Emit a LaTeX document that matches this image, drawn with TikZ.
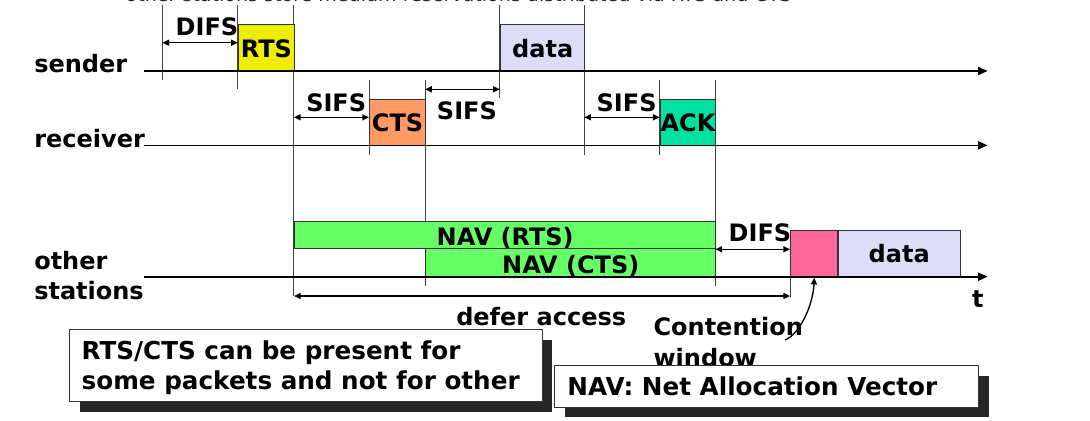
\documentclass[tikz,border=0pt]{standalone}
\usepackage{fontspec}
\setmainfont{DejaVu Sans}
\usetikzlibrary{arrows.meta,shadows}
\definecolor{rtsy}{RGB}{238,238,0}
\definecolor{ctsc}{RGB}{255,153,102}
\definecolor{ackc}{RGB}{0,224,160}
\definecolor{datac}{RGB}{221,221,247}
\definecolor{navc}{RGB}{102,255,102}
\definecolor{pinkc}{RGB}{255,102,153}
\begin{document}
\begin{tikzpicture}[x=0.75pt,y=-0.75pt,
  lbl/.style={font=\fontsize{18}{21.6}\selectfont\bfseries, inner sep=0pt, anchor=base west},
  pkt/.style={draw=black!80, line width=0.8pt, inner sep=0pt, anchor=north west,
    font=\fontsize{18}{21.6}\selectfont\bfseries, text height=13.5pt, text depth=0pt},
  navbar/.style={pkt, fill=navc, text height=16pt},
  tl/.style={line width=1.2pt, -{Triangle[length=7pt,width=6pt]}},
  vl/.style={black!75, line width=0.75pt},
  dim/.style={line width=1pt, {Triangle[length=5pt,width=4.5pt]}-{Triangle[length=5pt,width=4.5pt]}},
  note/.style={draw=black!80, line width=0.8pt, fill=white, inner sep=0pt, anchor=north west,
    drop shadow={shadow xshift=7.5pt, shadow yshift=-7.5pt, opacity=1, fill=black!85}},
  notetxt/.style={font=\fontsize{18.5}{22}\selectfont\bfseries, inner sep=0pt, anchor=base west}
]
\useasboundingbox (0,0) rectangle (1090,421);

% clipped heading line (cut off at the top edge, as in the reference)
\node[anchor=base west, inner sep=0pt, font=\fontsize{14.3}{17}\selectfont, text=black!85] (topline) at (125.4,2) {other stations store medium reservations distributed via RTS and CTS};

% station labels
\node[lbl] (lsender) at (34,72.7) {sender};
\node[lbl] (lreceiver) at (34,147.7) {receiver};
\node[lbl] (lother) at (34,269.3) {other};
\node[lbl] (lstations) at (34,299.3) {stations};

% vertical markers
\draw[vl] (162.4,5) -- (162.4,80);
\draw[vl] (237.8,5) -- (237.8,89);
\draw[vl] (293.9,5) -- (293.9,296);
\draw[vl] (369,80) -- (369,155);
\draw[vl] (425.1,80) -- (425.1,286);
\draw[vl] (499.8,5) -- (499.8,98);
\draw[vl] (584.3,5) -- (584.3,155);
\draw[vl] (659.6,80) -- (659.6,155);
\draw[vl] (715.4,80) -- (715.4,286);
\draw[vl] (790,230) -- (790,297);

% packets
\node[pkt, fill=rtsy, minimum width=42.1pt, minimum height=35.25pt] (rts) at (237.8,24) {RTS};
\node[pkt, fill=datac, minimum width=63.2pt, minimum height=35.25pt] (data1) at (500,24) {data};
\node[pkt, fill=ctsc, minimum width=42.1pt, minimum height=35pt] (cts) at (369,98.7) {CTS};
\node[pkt, fill=ackc, minimum width=41.85pt, minimum height=35pt] (ack) at (659.6,98.7) {ACK};
\node[navbar, minimum width=316pt, minimum height=20.7pt] (navr) at (294,220.7) {NAV (RTS)};
\node[navbar, minimum width=217.7pt, minimum height=21.3pt] (navcts) at (425.1,248.3) {NAV (CTS)};
\node[pkt, fill=pinkc, minimum width=35.6pt, minimum height=35pt] (cwin) at (790,230) {};
\node[pkt, fill=datac, minimum width=91.7pt, minimum height=35pt] (data2) at (837.5,230) {data};

% time lines
\coordinate (s0) at (143.8,71);   \coordinate (s1) at (987.5,71);
\coordinate (r0) at (143.8,145.3); \coordinate (r1) at (987.5,145.3);
\coordinate (o0) at (143.8,276.7); \coordinate (o1) at (987.5,276.7);
\draw[tl] (s0) -- (s1);
\draw[tl] (r0) -- (r1);
\draw[tl] (o0) -- (o1);

% interval arrows
\coordinate (d1a) at (162.4,42.7);  \coordinate (d1b) at (237.8,42.7);
\coordinate (sa1) at (293.9,117.3); \coordinate (sb1) at (369,117.3);
\coordinate (sa2) at (425.1,89.3);  \coordinate (sb2) at (499.8,89.3);
\coordinate (sa3) at (584.3,117.3); \coordinate (sb3) at (659.6,117.3);
\coordinate (d2a) at (715.4,249.3); \coordinate (d2b) at (790,249.3);
\coordinate (dfa) at (293.9,296);   \coordinate (dfb) at (790,296);
\draw[dim] (d1a) -- (d1b);
\draw[dim] (sa1) -- (sb1);
\draw[dim] (sa2) -- (sb2);
\draw[dim] (sa3) -- (sb3);
\draw[dim] (d2a) -- (d2b);
\draw[dim] (dfa) -- (dfb);

\node[lbl] (difs1) at (175.4,36) {DIFS};
\node[lbl] (sifs1) at (306,111) {SIFS};
\node[lbl] (sifs2) at (436.7,119.3) {SIFS};
\node[lbl] (sifs3) at (596.4,111) {SIFS};
\node[lbl] (difs2) at (728.4,241.7) {DIFS};
\node[lbl] (defer) at (456,325.7) {defer access};
\node[lbl] (tlab) at (971.8,307.3) {t};
\node[lbl] (cont1) at (653.3,335) {Contention};
\node[lbl] (cont2) at (653.3,366.5) {window};

\coordinate (cw) at (785,340);
\draw[line width=1pt, -{Triangle[length=5pt,width=4.5pt]}] (cw) .. controls (800,334) and (813,305) .. (cwin.south);

% notes
\node[note, minimum width=354.6pt, minimum height=53.8pt] (note1) at (69.1,329.3) {};
\node[notetxt] (note1a) at (81.4,359.3) {RTS/CTS can be present for};
\node[notetxt] (note1b) at (81.4,389) {some packets and not for other};
\node[note, minimum width=318pt, minimum height=31.3pt] (note2) at (554,365) {};
\node[notetxt] (note2a) at (567.2,395) {NAV: Net Allocation Vector};
\end{tikzpicture}
\end{document}
